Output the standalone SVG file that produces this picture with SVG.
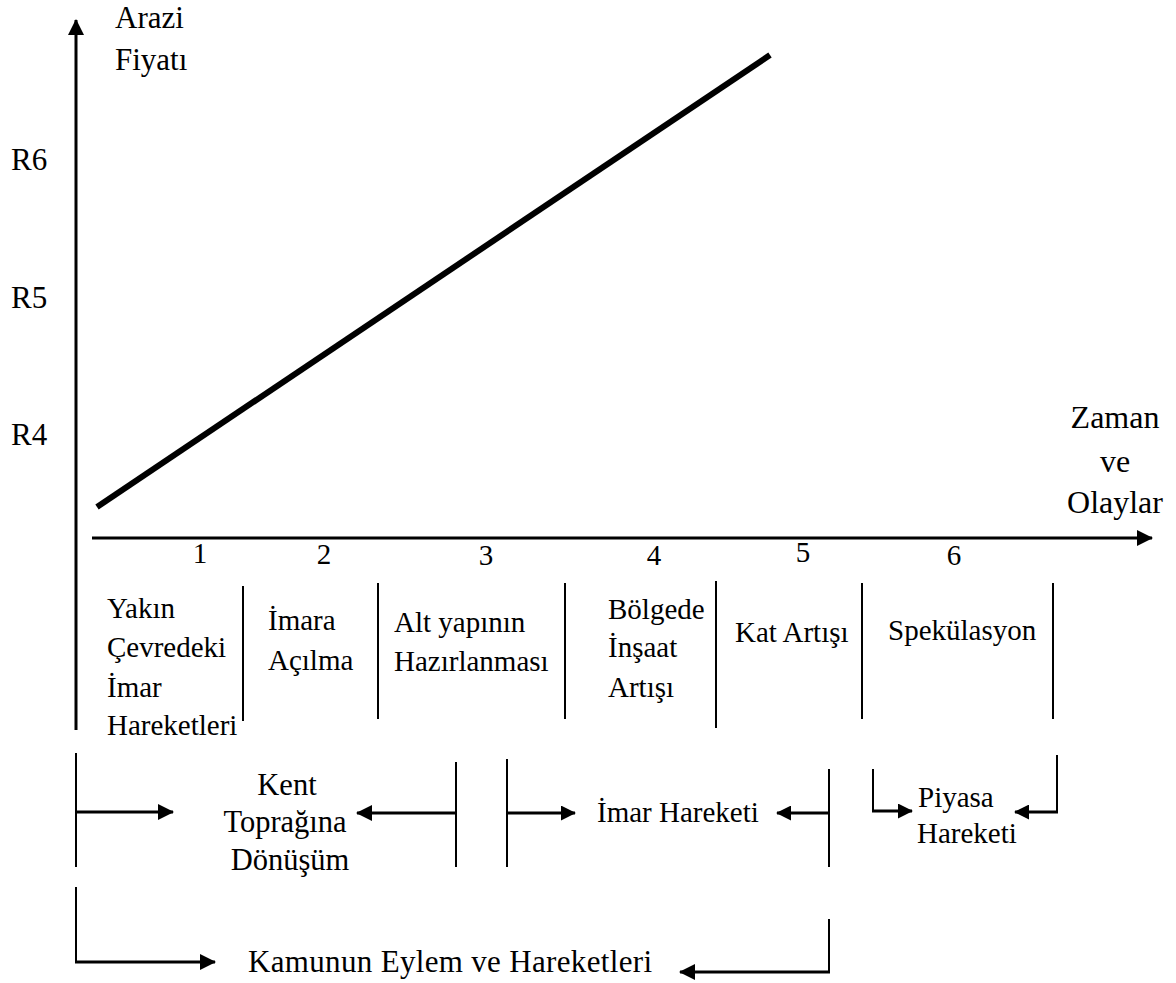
<svg xmlns="http://www.w3.org/2000/svg" width="1176" height="983" viewBox="0 0 1176 983">
<defs>
<style>
text{font-family:"Liberation Serif","Times New Roman",serif;font-size:29px;fill:#000}
.mid{text-anchor:middle}
.big{font-size:31px}
.axis{stroke:#000;stroke-width:3;fill:none}
.div{stroke:#000;stroke-width:2;fill:none}
.br{stroke:#000;stroke-width:2;fill:none}
.ar{stroke:#000;stroke-width:3;fill:none}
</style>
<marker id="ah" viewBox="0 0 16 16" refX="15" refY="8" markerWidth="16" markerHeight="16" markerUnits="userSpaceOnUse" orient="auto">
<path d="M0,0 L16,8 L0,16 z" fill="#000"/>
</marker>
<marker id="ahs" viewBox="0 0 16 16" refX="15" refY="8" markerWidth="15" markerHeight="15" markerUnits="userSpaceOnUse" orient="auto">
<path d="M0,0 L16,8 L0,16 z" fill="#000"/>
</marker>
</defs>
<rect width="1176" height="983" fill="#fff"/>

<g id="axes">
<line class="axis" x1="76" y1="730" x2="76" y2="20" marker-end="url(#ah)"/>
<line class="axis" x1="92" y1="538" x2="1152" y2="538" marker-end="url(#ah)"/>
<line x1="97" y1="507" x2="770" y2="55" stroke="#000" stroke-width="6"/>
</g>

<g id="axis-labels">
<text class="big" x="115" y="28">Arazi</text>
<text class="big" x="115" y="70">Fiyatı</text>
<text class="big" x="11" y="170">R6</text>
<text class="big" x="11" y="308">R5</text>
<text class="big" x="11" y="445">R4</text>
<text class="mid" x="1115" y="428" style="font-size:32px">Zaman</text>
<text class="mid" x="1115" y="472" style="font-size:32px">ve</text>
<text class="mid" x="1115" y="513" style="font-size:32px">Olaylar</text>
</g>

<g id="numbers">
<text class="mid" x="200" y="563">1</text>
<text class="mid" x="324" y="564">2</text>
<text class="mid" x="486" y="565">3</text>
<text class="mid" x="654" y="565">4</text>
<text class="mid" x="803" y="562">5</text>
<text class="mid" x="954" y="565">6</text>
</g>

<g id="stage1">
<text x="107" y="618">Yakın</text>
<text x="107" y="657">Çevredeki</text>
<text x="107" y="697">İmar</text>
<text x="107" y="735">Hareketleri</text>
</g>
<g id="stage2">
<text x="268" y="630">İmara</text>
<text x="268" y="670">Açılma</text>
</g>
<g id="stage3">
<text x="394" y="632">Alt yapının</text>
<text x="394" y="671">Hazırlanması</text>
</g>
<g id="stage4">
<text x="608" y="619">Bölgede</text>
<text x="608" y="657">İnşaat</text>
<text x="608" y="697">Artışı</text>
</g>
<g id="stage5">
<text x="735" y="642">Kat Artışı</text>
</g>
<g id="stage6">
<text x="888" y="640">Spekülasyon</text>
</g>

<g id="dividers">
<line class="div" x1="243" y1="586" x2="243" y2="721"/>
<line class="div" x1="378" y1="583" x2="378" y2="719"/>
<line class="div" x1="565" y1="583" x2="565" y2="719"/>
<line class="div" x1="716" y1="581" x2="716" y2="728"/>
<line class="div" x1="862" y1="583" x2="862" y2="719"/>
<line class="div" x1="1053" y1="583" x2="1053" y2="719"/>
</g>

<g id="group-kent" style="font-size:30.5px">
<text class="mid" x="287" y="795" style="font-size:30.5px">Kent</text>
<text class="mid" x="285" y="832" style="font-size:30.5px">Toprağına</text>
<text class="mid" x="290" y="870" style="font-size:30.5px">Dönüşüm</text>
</g>
<g id="group-imar">
<text x="597" y="822">İmar Hareketi</text>
</g>
<g id="group-piyasa">
<text x="918" y="807">Piyasa</text>
<text x="917" y="843">Hareketi</text>
</g>
<g id="group-kamu">
<text x="248" y="972" style="font-size:31px" textLength="404" lengthAdjust="spacing">Kamunun Eylem ve Hareketleri</text>
</g>

<g id="connectors">
<line class="br" x1="76" y1="753" x2="76" y2="867"/>
<line class="ar" x1="76" y1="812" x2="173" y2="812" marker-end="url(#ah)"/>
<line class="br" x1="456" y1="762" x2="456" y2="867"/>
<line class="ar" x1="456" y1="813" x2="357" y2="813" marker-end="url(#ah)"/>
<line class="br" x1="507" y1="759" x2="507" y2="867"/>
<line class="ar" x1="507" y1="813" x2="575" y2="813" marker-end="url(#ahs)"/>
<line class="br" x1="829" y1="769" x2="829" y2="867"/>
<line class="ar" x1="829" y1="813" x2="777" y2="813" marker-end="url(#ahs)"/>
<line class="br" x1="873" y1="769" x2="873" y2="811"/>
<line class="ar" x1="872" y1="811" x2="912" y2="811" marker-end="url(#ahs)"/>
<line class="br" x1="1057" y1="755" x2="1057" y2="812"/>
<line class="ar" x1="1058" y1="812" x2="1015" y2="812" marker-end="url(#ahs)"/>
<line class="br" x1="76" y1="887" x2="76" y2="962"/>
<line class="ar" x1="75" y1="962" x2="215" y2="962" marker-end="url(#ah)"/>
<line class="br" x1="829" y1="919" x2="829" y2="972"/>
<line class="ar" x1="830" y1="972" x2="680" y2="972" marker-end="url(#ah)"/>
</g>
</svg>
